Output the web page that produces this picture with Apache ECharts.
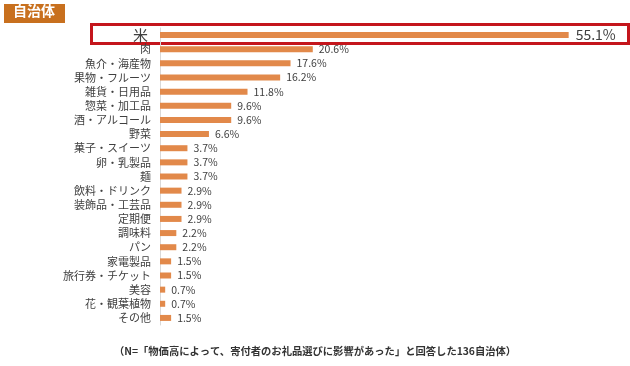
<!DOCTYPE html>
<html><head><meta charset="utf-8">
<script src="https://cdn.jsdelivr.net/npm/echarts@6/dist/echarts.min.js"></script>
<style>html,body{margin:0;padding:0;background:#fff}#c{width:630px;height:366px}</style>
</head><body><div id="c"></div>
<script>
const categories = ['米','肉','魚介・海産物','果物・フルーツ','雑貨・日用品','惣菜・加工品','酒・アルコール','野菜','菓子・スイーツ','卵・乳製品','麺','飲料・ドリンク','装飾品・工芸品','定期便','調味料','パン','家電製品','旅行券・チケット','美容','花・観葉植物','その他'];
const values = [55.1,20.6,17.6,16.2,11.8,9.6,9.6,6.6,3.7,3.7,3.7,2.9,2.9,2.9,2.2,2.2,1.5,1.5,0.7,0.7,1.5];
const titleText = '自治体';
const noteText = '（N=「物価高によって、寄付者のお礼品選びに影響があった」と回答した136自治体）';

const font = '"Noto Sans CJK JP","Noto Sans",sans-serif';
const chart = echarts.init(document.getElementById('c'));
chart.setOption({
  animation:false,
  grid:{left:160,top:28,width:445,height:297,containLabel:false},
  xAxis:{type:'value',min:0,max:60,show:false},
  yAxis:{type:'category',data:categories,inverse:true,
    axisLine:{show:true,lineStyle:{color:'#d9d9d9',width:1}},
    axisTick:{show:false},
    axisLabel:{margin:9,interval:0,hideOverlap:false,fontFamily:font,color:'#404040',
      formatter:(v)=>v==='米'?'{big|'+v+'}':v,
      fontSize:11,rich:{big:{fontSize:15,color:'#404040',fontFamily:font,padding:[0,3,0,0]}}}},
  series:[{type:'bar',data:values.map((v,i)=>i===0?{value:v,label:{fontSize:14,distance:7}}:v),barWidth:6,
    itemStyle:{color:'#E2894A'},
    label:{show:true,position:'right',distance:6,formatter:p=>p.value.toFixed(1)+'%',
      fontFamily:font,fontSize:10.5,color:'#404040'}}],
  graphic:[
    {type:'rect',left:4,top:4,shape:{width:61,height:19},style:{fill:'#C8701E'}},
    {type:'text',left:13,top:4,style:{text:titleText,fill:'#fff',font:'bold 14px '+font}},
    {type:'rect',left:89,top:22,shape:{width:537,height:19},style:{fill:null,stroke:'#C4161C',lineWidth:3}},
    {type:'text',left:'center',top:346,style:{text:noteText,fill:'#333',font:'bold 10.3px '+font}}
  ]
});
</script></body></html>
